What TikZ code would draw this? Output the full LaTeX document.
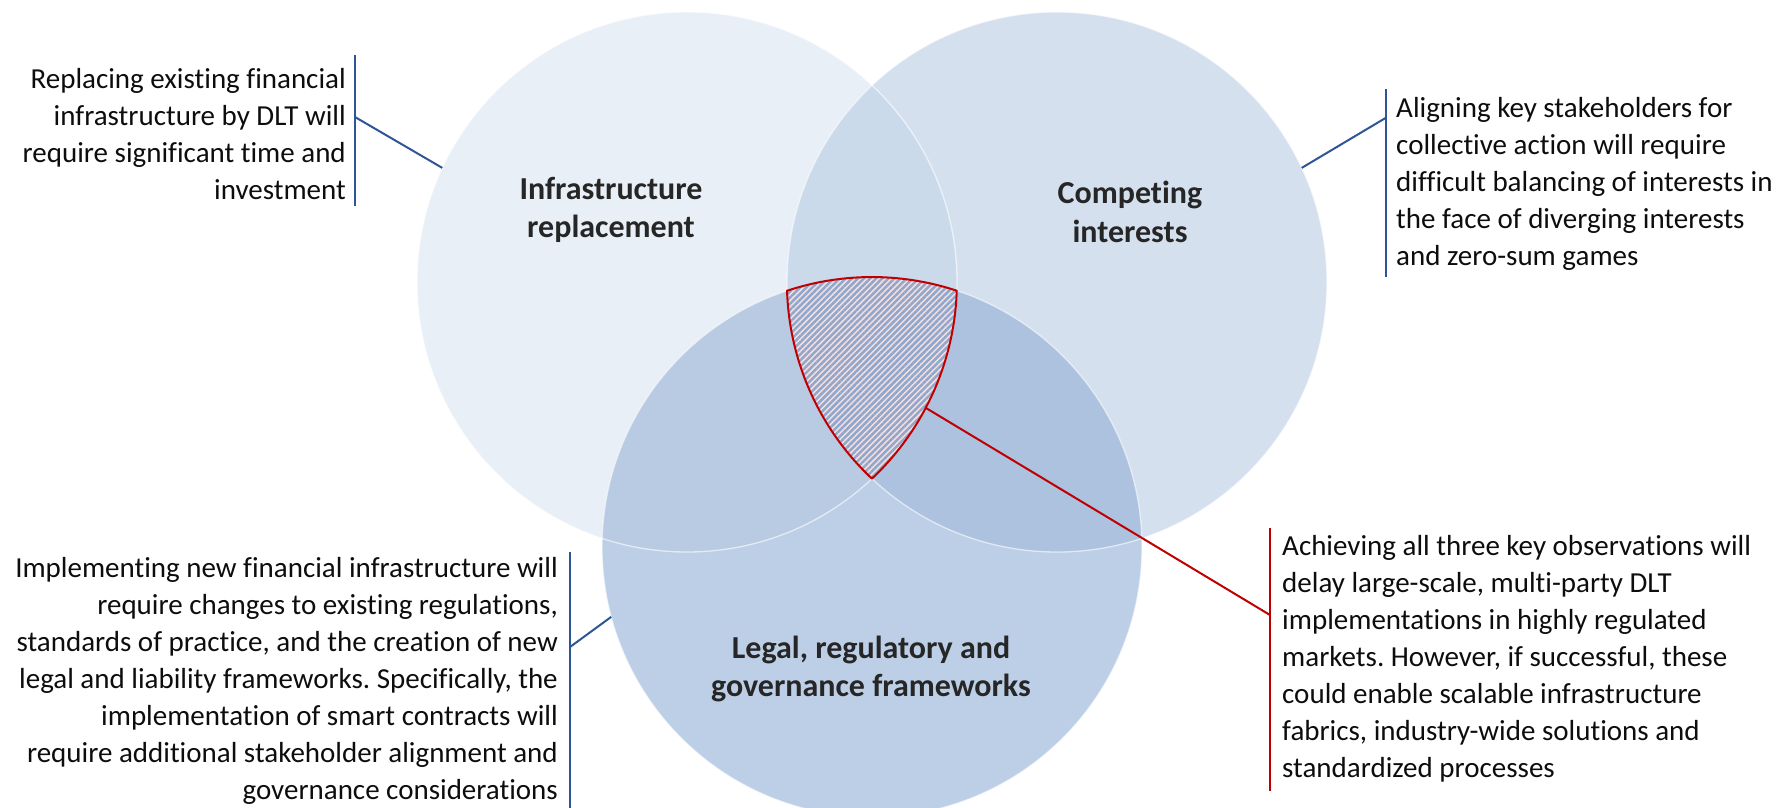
\documentclass[tikz,border=0pt]{standalone}
\usepackage{fontspec}
\setmainfont[Ligatures=NoCommon]{Carlito}
\frenchspacing
\usetikzlibrary{patterns.meta,calc}
\definecolor{cA}{HTML}{E9EFF7}
\definecolor{cB}{HTML}{D5E0EF}
\definecolor{cAB}{HTML}{CBDAEB}
\definecolor{cC}{HTML}{BDCFE6}
\definecolor{cAC}{HTML}{B8CBE3}
\definecolor{cBC}{HTML}{ACC2DE}
\definecolor{pinkbg}{HTML}{F4DEDF}
\definecolor{patblue}{HTML}{8FA7CC}
\definecolor{navy}{HTML}{2F5597}
\definecolor{redc}{HTML}{C00000}
\definecolor{bodytext}{HTML}{0D0D0D}
\definecolor{headtext}{HTML}{262626}
\begin{document}
\begin{tikzpicture}[x=1pt,y=-1pt,
  venn/.style={circle, minimum size=540pt, inner sep=0pt, outer sep=0pt},
  body/.style={font=\fontsize{29}{37}\selectfont, inner sep=0pt, text=bodytext},
  head/.style={font=\fontsize{32}{38.5}\selectfont\bfseries, align=center, inner sep=0pt, text=headtext},
  navyline/.style={draw=navy, line width=2pt},
  redline/.style={draw=redc, line width=2pt},
  rim/.style={draw=white, draw opacity=0.6, line width=1.3pt}]
\useasboundingbox (0,0) rectangle (1789,808);
% circles
\node[venn, fill=cA] (c1) at (687,282) {};
\node[venn, fill=cB] (c2) at (1057,282) {};
\begin{scope}
  \clip (c1.center) circle[radius=270pt];
  \fill[cAB] (c2.center) circle[radius=270pt];
\end{scope}
\node[venn, fill=cC] (c3) at (872,547) {};
\begin{scope}
  \clip (c3.center) circle[radius=270pt];
  \fill[cAC] (c1.center) circle[radius=270pt];
  \fill[cBC] (c2.center) circle[radius=270pt];
\end{scope}
% triple intersection
\begin{scope}
  \clip (c1.center) circle[radius=270pt];
  \clip (c2.center) circle[radius=270pt];
  \fill[pinkbg] (c3.center) circle[radius=270pt];
  \fill[pattern={Lines[angle=45,distance=4.3pt,line width=2.5pt]}, pattern color=patblue] (c3.center) circle[radius=270pt];
\end{scope}
% rims
\draw[rim] (c1.center) circle[radius=270pt];
\draw[rim] (c2.center) circle[radius=270pt];
\draw[rim] (c3.center) circle[radius=270pt];
% red border of triple intersection
\coordinate (L) at (787.2,290.7);
\draw[redline, line join=round] (L) arc[start angle=108.3, end angle=71.7, radius=270pt]
  arc[start angle=-1.85, end angle=-46.75, radius=270pt]
  arc[start angle=226.75, end angle=181.85, radius=270pt] -- cycle;
% labels
\node[head] (h1) at (611,210) {Infrastructure\\replacement};
\node[head] (h2) at (1130,212) {Competing\\interests};
\node[head] (h3) at (871,669) {Legal, regulatory and\\governance frameworks};
% annotation texts (base anchor = baseline of last line)
\node[body, align=right, anchor=base east] (t1) at (346,199) {Replacing existing financial\\infrastructure by DLT will\\require significant time and\\investment};
\node[body, align=left, anchor=base west] (t2) at (1396,265) {Aligning key stakeholders for\\collective action will require\\difficult balancing of interests in\\the face of diverging interests\\and zero-sum games};
\node[body, align=right, anchor=base east] (t3) at (558,799) {Implementing new financial infrastructure will\\require changes to existing regulations,\\standards of practice, and the creation of new\\legal and liability frameworks. Specifically, the\\implementation of smart contracts will\\require additional stakeholder alignment and\\governance considerations};
\node[body, align=left, anchor=base west] (t4) at (1282,777) {Achieving all three key observations will\\delay large-scale, multi-party DLT\\implementations in highly regulated\\markets. However, if successful, these\\could enable scalable infrastructure\\fabrics, industry-wide solutions and\\standardized processes};
% bars and connectors
\coordinate (b1t) at (355,55); \coordinate (b1b) at (355,206); \coordinate (b1m) at (355,117);
\coordinate (b2t) at (1386,89); \coordinate (b2b) at (1386,277); \coordinate (b2m) at (1386,117.7);
\coordinate (b3t) at (570,552); \coordinate (b3b) at (570,808); \coordinate (b3m) at (570,647);
\coordinate (b4t) at (1270,528); \coordinate (b4b) at (1270,791); \coordinate (b4m) at (1270,615);
\coordinate (redpt) at ($(c1.center)+(-27.8:270pt)$);
\draw[navyline] (b1t) -- (b1b);
\draw[navyline] (b1m) -- (c1.155.7);
\draw[navyline] (b2t) -- (b2b);
\draw[navyline] (b2m) -- (c2.25.7);
\draw[navyline] (b3t) -- (b3b);
\draw[navyline] (b3m) -- (c3.195.7);
\draw[redline] (b4t) -- (b4b);
\draw[redline] (redpt) -- (b4m);
\end{tikzpicture}
\end{document}
